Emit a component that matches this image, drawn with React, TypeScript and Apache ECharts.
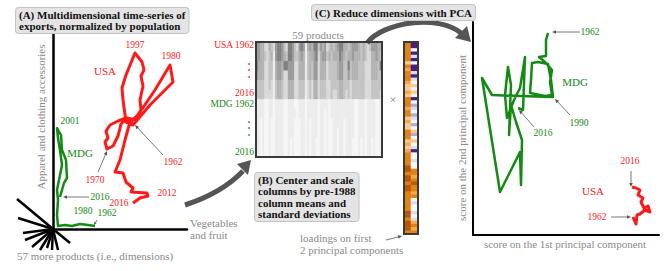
import React, { useEffect, useRef } from 'react';
import * as echarts from 'echarts';

const SERIF = 'Liberation Serif';
const GRAY = '#8a8a8a';
const RED = '#ff1a1a';
const GREEN = '#138a13';
const DARK = '#555555';

// ---- Panel A: per-capita exports (relative units): [vegetables & fruit, apparel & clothing]
const usaA: [number, number][] = [
  [80, 105], [73, 111], [65, 108], [57, 104], [53, 98], [55, 91], [52, 87], [54, 80],
  [60, 83], [65, 93], [68, 105], [74, 111], [83, 109], [87, 117], [102, 139], [117, 164],
  [120, 147], [97, 124], [80, 104], [73, 107], [70, 129], [69, 141], [73, 154], [82, 176],
  [89, 167], [91, 159], [88, 153], [90, 143], [87, 129], [88, 119], [84, 113], [77, 107],
  [72, 89], [67, 69], [62, 57], [70, 56], [73, 47], [80, 41], [78, 37], [94, 36],
  [95, 33], [87, 31], [80, 26],
];
const mdgA: [number, number][] = [
  [42, 3], [35, 4], [27, 5], [19, 3], [12, 4], [5, 3], [4, 14], [5, 29], [4, 39], [7, 54],
  [9, 64], [7, 79], [5, 91], [4, 101], [8, 94], [9, 79], [13, 69], [14, 51], [11, 46],
  [9, 39], [7, 32],
];

// ---- Panel B: centred & scaled matrix (shade level 0..9), rows = year bands, cols = 59 products
const heatRowLabels = [
  'USA 1962', 'USA 1971', 'USA 1980', 'USA 1989', 'USA 1998', 'USA 2007',
  'MDG 1962', 'MDG 1971', 'MDG 1980', 'MDG 1989', 'MDG 1998', 'MDG 2007',
];
const heatRows = [
  '5544224325' + '6653266532' + '5651454663' + '5452343456' + '6443455543' + '432355544',
  '5544323415' + '6654366533' + '4541344562' + '4553434446' + '5434454443' + '432244543',
  '6444223314' + '5546655522' + '4441343552' + '4442333345' + '5336344433' + '322244436',
  '5444223314' + '5542255522' + '4441343552' + '4442333345' + '5335344433' + '322244433',
  '3333223213' + '4432244422' + '3331232442' + '3332233334' + '4333233333' + '322233333',
  '3333222213' + '4432244422' + '3331232442' + '3332232234' + '4323233333' + '322233332',
  '1111001101' + '1110011100' + '1110111110' + '1111011111' + '1111110011' + '101111001',
  '1111001101' + '1110011110' + '1110111110' + '1101011111' + '1111110011' + '101111001',
  '1101001001' + '1110011100' + '0110101110' + '1101001111' + '1011110011' + '101111001',
  '1101001001' + '1110011100' + '0110101110' + '1101001101' + '1011110011' + '101111001',
  '1101001001' + '1110010100' + '0110101100' + '1101001101' + '1011100010' + '101101001',
  '1101001001' + '1110010100' + '0110101100' + '1101001101' + '1011100010' + '101101001',
];

// ---- Loadings on PC1 / PC2 (levels -4..4)
const pc1Loadings = [
  3, 3, 3, 3, 3, 3, 1, 3, 2, 3, 3, 3, 2, 1, 1, 2, 1, 3, 3, 3,
  2, 3, 3, 1, 2, 1, 1, 3, 3, 3, 1, 2, 1, 2, 3, 3, 3, 3, 4, 4,
  3, 4, 4, 3, 4, 4, 3, 3, 3, 3, 3, 3, 4, 4, 3, 4, 4, 4, 3,
];
const pc2Loadings = [
  -4, -4, 0, -4, -1, -4, 0, -4, -4, -1, -4, -1, 0, 1, 0, 1, 0, -4, 0, -2,
  -1, 0, -2, -1, 0, -2, 0, 1, -2, 0, 1, 0, -1, -4, 0, 0, -1, 0, 0, 3,
  3, 2, 3, 4, 3, 3, 2, 3, 0, -1, 0, 0, -1, 0, -1, 2, 3, 2, 3,
];

// ---- Panel C: scores on PC1 / PC2 (relative units)
const mdgC: [number, number][] = [
  [75, 202], [73, 195], [73, 179], [66, 178], [72, 173], [79, 165], [77, 153], [79, 140],
  [72, 139], [57, 142], [58, 155], [59, 172], [65, 173], [75, 171], [78, 155], [80, 138],
  [47, 139], [19, 140], [9, 157], [27, 43], [47, 83], [48, 50], [49, 95], [43, 113],
  [38, 130], [36, 100], [38, 150], [35, 168], [32, 140], [34, 117], [41, 135], [47, 147],
  [52, 178], [50, 125], [45, 127],
];
const usaC: [number, number][] = [
  [160, 18], [163, 11], [164, 20], [167, 21], [172, 25], [177, 23], [175, 29], [171, 27],
  [168, 33], [170, 37], [165, 40], [167, 45], [163, 47], [159, 48],
];

const grayShades = ['#f6f6f6', '#ececec', '#dadada', '#c4c4c4', '#b2b2b2', '#9c9c9c', '#808080', '#5e5e5e', '#3a3a3a', '#141414'];
const puor: Record<number, string> = {
  [-4]: '#4b1d7d', [-3]: '#7b6aa8', [-2]: '#b2abd2', [-1]: '#dcdcee', 0: '#f7f7f7',
  1: '#fdc98c', 2: '#f7a84a', 3: '#e08214', 4: '#b35806',
};

function txt(x: number, y: number, text: string, o: any = {}) {
  const align = o.align || 'center';
  const va = o.va || 'middle';
  return {
    type: 'text', x, y, z: 100, rotation: o.rotation || 0,
    style: {
      text, fontFamily: SERIF, fontSize: o.size || 9.5, fill: o.color || GRAY,
      fontWeight: o.weight || 'normal', align, verticalAlign: va,
      textAlign: align, textVerticalAlign: va, lineHeight: o.lh, ...(o.extra || {}),
    },
  };
}

function dots(x: number, y: number, color: string) {
  return [-6, 0, 7].map((d) => ({ type: 'circle', z: 100, shape: { cx: x, cy: y + d, r: 0.8 }, style: { fill: color } }));
}

function arrow(x1: number, y1: number, x2: number, y2: number, head = 4) {
  const dx = x2 - x1, dy = y2 - y1, L = Math.hypot(dx, dy);
  const ux = dx / L, uy = dy / L, px = -uy, py = ux;
  const bx = x2 - ux * head, by = y2 - uy * head;
  return [
    { type: 'line', z: 90, shape: { x1, y1, x2: bx, y2: by }, style: { stroke: DARK, lineWidth: 0.8 } },
    {
      type: 'polygon', z: 90,
      shape: { points: [[x2, y2], [bx + px * head * 0.45, by + py * head * 0.45], [bx - px * head * 0.45, by - py * head * 0.45]] },
      style: { fill: DARK },
    },
  ];
}

function box(x: number, y: number, text: string, lh: number) {
  return {
    type: 'text', x, y, z: 100,
    style: {
      text, fontFamily: SERIF, fontSize: 11, fontWeight: 'bold', fill: '#111',
      align: 'left', verticalAlign: 'top', textAlign: 'left', textVerticalAlign: 'top',
      lineHeight: lh, backgroundColor: '#e4e4e4', borderColor: '#c4c4c4', borderWidth: 1,
      borderRadius: 3, padding: [1, 3, 1, 3],
    },
  };
}

export default function App() {
  const ref = useRef<HTMLDivElement>(null);
  useEffect(() => {
    if (!ref.current) return;
    const chart = echarts.init(ref.current, undefined, { renderer: 'svg' });

    const heatData: number[][] = [];
    heatRows.forEach((row, r) => row.split('').forEach((ch, c) => heatData.push([c, r, Number(ch)])));
    const products = Array.from({ length: 59 }, (_, i) => 'P' + (i + 1));
    const loadData: number[][] = [];
    pc1Loadings.forEach((v, r) => loadData.push([0, r, v]));
    pc2Loadings.forEach((v, r) => loadData.push([1, r, v]));

    const hiddenCat = (data: string[], gridIndex: number, inverse = false) => ({
      type: 'category', gridIndex, data, show: false, inverse,
    });
    const lineAxis = (gridIndex: number, max: number, w: number) => ({
      type: 'value', gridIndex, min: 0, max,
      axisLine: { show: true, onZero: false, lineStyle: { color: '#000', width: w } },
      axisTick: { show: false }, axisLabel: { show: false }, splitLine: { show: false },
    });

    const star = [
      [17, 199], [18, 218], [23, 233], [25, 240], [32, 247], [40, 250], [47, 248], [52, 250], [58, 250], [70, 243],
    ].map(([x, y]) => ({ type: 'line', z: 5, shape: { x1: 53, y1: 229, x2: x, y2: y }, style: { stroke: '#000', lineWidth: 2.5 } }));

    const graphic: any[] = [
      // Panel A
      box(16, 8, '(A) Multidimensional time-series of\nexports, normalized by population', 11.5),
      txt(41, 117, 'Apparel and clothing accessories', { size: 11, rotation: Math.PI / 2 }),
      txt(190, 229, 'Vegetables\nand fruit', { size: 11, align: 'left', lh: 12.5 }),
      txt(17, 256, '57 more products (i.e., dimensions)', { size: 11, align: 'left' }),
      ...star,
      txt(135, 45, '1997', { color: RED }),
      txt(171, 56, '1980', { color: RED }),
      txt(105, 71, 'USA', { color: RED, size: 11 }),
      txt(173, 162, '1962', { color: RED }),
      txt(95, 180, '1970', { color: RED }),
      txt(167, 193, '2012', { color: RED }),
      txt(119, 203, '2016', { color: RED }),
      txt(70, 121, '2001', { color: GREEN }),
      txt(80, 153, 'MDG', { color: GREEN, size: 11 }),
      txt(100, 197, '2016', { color: GREEN }),
      txt(83, 211, '1980', { color: GREEN }),
      txt(107, 213, '1962', { color: GREEN }),
      ...arrow(98, 172, 107, 151),
      ...arrow(163, 155, 135, 125),
      ...arrow(89, 197, 63, 197),
      ...arrow(97, 220, 94, 225, 3),
      // curved arrow A -> B
      { type: 'bezierCurve', z: 20, shape: { x1: 185, y1: 205, x2: 243, y2: 171, cpx1: 222, cpy1: 193 }, style: { stroke: DARK, lineWidth: 5, fill: 'none' } },
      { type: 'polygon', z: 20, shape: { points: [[251, 160], [237, 164], [248, 175]] }, style: { fill: DARK } },
      // Panel B
      txt(318, 35, '59 products', { size: 11 }),
      txt(254, 45, 'USA 1962', { color: RED, align: 'right' }),
      ...dots(249, 70, RED),
      txt(254, 93, '2016', { color: RED, align: 'right' }),
      txt(254, 104, 'MDG 1962', { color: GREEN, align: 'right' }),
      ...dots(249, 128, GREEN),
      txt(254, 152, '2016', { color: GREEN, align: 'right' }),
      { type: 'rect', z: 60, shape: { x: 256, y: 42, width: 126, height: 115 }, style: { fill: 'none', stroke: '#3a3a3a', lineWidth: 2 } },
      txt(393, 99, '×', { size: 13 }),
      { type: 'rect', z: 60, shape: { x: 404, y: 42, width: 14, height: 192 }, style: { fill: 'none', stroke: '#3a3a3a', lineWidth: 2 } },
      txt(300, 238, 'loadings on first', { size: 11, align: 'left' }),
      txt(300, 250, '2 principal components', { size: 11, align: 'left' }),
      ...arrow(386, 240, 402, 236),
      box(255, 173, '(B) Center and scale\ncolumns by pre-1988\ncolumn means and\nstandard deviations', 11.5),
      // curved arrow B -> C
      { type: 'bezierCurve', z: 20, shape: { x1: 367, y1: 43, x2: 461, y2: 33, cpx1: 383, cpy1: 22, cpx2: 438, cpy2: 14 }, style: { stroke: DARK, lineWidth: 5, fill: 'none' } },
      { type: 'polygon', z: 20, shape: { points: [[471, 42], [455, 38], [467, 26]] }, style: { fill: DARK } },
      box(312, 5, '(C) Reduce dimensions with PCA', 13),
      // Panel C
      txt(462, 138, 'score on the 2nd principal component', { size: 11, rotation: Math.PI / 2 }),
      txt(565, 244, 'score on the 1st principal component', { size: 11 }),
      txt(590, 32, '1962', { color: GREEN }),
      ...arrow(580, 32, 552, 32),
      txt(575, 82, 'MDG', { color: GREEN, size: 11 }),
      txt(579, 123, '1990', { color: GREEN }),
      ...arrow(570, 115, 555, 99),
      txt(543, 133, '2016', { color: GREEN }),
      ...arrow(534, 127, 519, 110),
      txt(630, 161, '2016', { color: RED }),
      ...arrow(631, 171, 631, 187),
      txt(593, 191, 'USA', { color: RED, size: 11 }),
      txt(597, 217, '1962', { color: RED }),
      ...arrow(611, 217, 631, 217),
    ];

    chart.setOption({
      animation: false,
      backgroundColor: '#fff',
      grid: [
        { left: 53, top: 33, width: 134, height: 196 },
        { left: 256, top: 42, width: 126, height: 115 },
        { left: 404, top: 42, width: 14, height: 192 },
        { left: 473, top: 22, width: 186, height: 213 },
      ],
      xAxis: [
        lineAxis(0, 134, 2.5),
        hiddenCat(products, 1),
        hiddenCat(['PC1', 'PC2'], 2),
        lineAxis(3, 186, 2),
      ],
      yAxis: [
        lineAxis(0, 196, 2.5),
        hiddenCat(heatRowLabels, 1, true),
        hiddenCat(pc1Loadings.map((_, i) => 'P' + (i + 1)), 2, true),
        lineAxis(3, 213, 2),
      ],
      visualMap: [
        { type: 'piecewise', show: false, seriesIndex: 2, dimension: 2, pieces: grayShades.map((c, i) => ({ value: i, color: c })) },
        { type: 'piecewise', show: false, seriesIndex: 3, dimension: 2, pieces: [-4, -3, -2, -1, 0, 1, 2, 3, 4].map((v) => ({ value: v, color: puor[v] })) },
      ],
      series: [
        { type: 'line', xAxisIndex: 0, yAxisIndex: 0, data: usaA, showSymbol: false, lineStyle: { color: RED, width: 3, join: 'round' }, z: 3 },
        { type: 'line', xAxisIndex: 0, yAxisIndex: 0, data: mdgA, showSymbol: false, lineStyle: { color: GREEN, width: 2.5, join: 'round' }, z: 3 },
        { type: 'heatmap', xAxisIndex: 1, yAxisIndex: 1, data: heatData, itemStyle: { borderWidth: 0 }, emphasis: { disabled: true } },
        { type: 'heatmap', xAxisIndex: 2, yAxisIndex: 2, data: loadData, itemStyle: { borderWidth: 0 }, emphasis: { disabled: true } },
        { type: 'line', xAxisIndex: 3, yAxisIndex: 3, data: mdgC, showSymbol: false, lineStyle: { color: GREEN, width: 2.5, join: 'round' }, z: 3 },
        { type: 'line', xAxisIndex: 3, yAxisIndex: 3, data: usaC, showSymbol: false, lineStyle: { color: RED, width: 3, join: 'round' }, z: 3 },
      ],
      graphic,
    });
    return () => chart.dispose();
  }, []);
  return <div ref={ref} style={{ position: 'fixed', left: 0, top: 0, width: 668, height: 271 }} />;
}
